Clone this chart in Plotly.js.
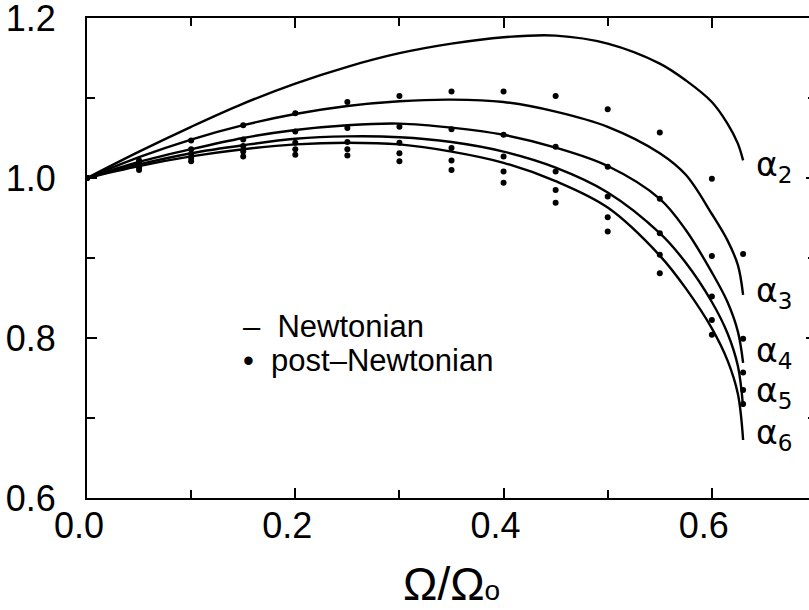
<!DOCTYPE html>
<html><head><meta charset="utf-8">
<script src="https://cdn.plot.ly/plotly-3.0.1.min.js"></script>
<style>html,body{margin:0;padding:0;overflow:hidden;background:#fff}</style>
</head><body><div id="chart" style="width:830px;height:610px"></div>
<script>
// Newtonian curves (solid lines)
const xNewton = [0, 0.05, 0.1, 0.15, 0.2, 0.25, 0.3, 0.35, 0.4, 0.45, 0.5, 0.55, 0.575, 0.6, 0.615, 0.625, 0.63];
const alpha2Newton = [1.0, 1.033, 1.064, 1.093, 1.118, 1.139, 1.156, 1.168, 1.176, 1.178, 1.168, 1.143, 1.122, 1.095, 1.068, 1.043, 1.022];
const alpha3Newton = [1.0, 1.026, 1.048, 1.066, 1.080, 1.090, 1.096, 1.098, 1.095, 1.083, 1.064, 1.031, 1.004, 0.955, 0.922, 0.891, 0.854];
const alpha4Newton = [1.0, 1.020, 1.036, 1.050, 1.060, 1.066, 1.068, 1.063, 1.054, 1.038, 1.015, 0.974, 0.935, 0.882, 0.845, 0.808, 0.769];
const alpha5Newton = [1.0, 1.017, 1.031, 1.041, 1.049, 1.052, 1.051, 1.045, 1.033, 1.013, 0.982, 0.931, 0.894, 0.845, 0.806, 0.765, 0.714];
const alpha6Newton = [1.0, 1.015, 1.027, 1.036, 1.042, 1.044, 1.042, 1.033, 1.019, 0.996, 0.963, 0.903, 0.862, 0.812, 0.772, 0.730, 0.6725];

// post-Newtonian points (dots)
const xPostNewton = [0, 0.05, 0.1, 0.15, 0.2, 0.25, 0.3, 0.35, 0.4, 0.45, 0.5, 0.55, 0.6, 0.63];
const alpha2Post = [1.0, 1.022, 1.047, 1.066, 1.081, 1.095, 1.1025, 1.108, 1.108, 1.1025, 1.086, 1.057, 0.999, 0.905];
const alpha3Post = [1.0, 1.019, 1.036, 1.048, 1.058, 1.0625, 1.064, 1.061, 1.054, 1.039, 1.014, 0.974, 0.9025, 0.799];
const alpha4Post = [1.0, 1.016, 1.030, 1.040, 1.044, 1.045, 1.044, 1.0375, 1.027, 1.008, 0.977, 0.931, 0.852, 0.757];
const alpha5Post = [1.0, 1.013, 1.025, 1.033, 1.036, 1.036, 1.031, 1.022, 1.008, 0.985, 0.951, 0.904, 0.8225, 0.735];
const alpha6Post = [1.0, 1.010, 1.021, 1.027, 1.029, 1.028, 1.021, 1.010, 0.994, 0.969, 0.933, 0.881, 0.804, 0.7175];

const curveNames = ['α<sub>2</sub>', 'α<sub>3</sub>', 'α<sub>4</sub>', 'α<sub>5</sub>', 'α<sub>6</sub>'];
const xTickVals = [0, 0.2, 0.4, 0.6];
const xTickText = ['0.0', '0.2', '0.4', '0.6'];
const yTickVals = [0.6, 0.8, 1.0, 1.2];
const yTickText = ['0.6', '0.8', '1.0', '1.2'];
const legendTexts = ['–  Newtonian', '•  post–Newtonian'];
const xTitle = 'Ω/Ω<span style="font-size:28px">o</span>';

const newtonSeries = [alpha2Newton, alpha3Newton, alpha4Newton, alpha5Newton, alpha6Newton];
const postSeries = [alpha2Post, alpha3Post, alpha4Post, alpha5Post, alpha6Post];

const FONT = 'Liberation Sans, Arial, sans-serif';
const traces = [];
newtonSeries.forEach((ys, i) => {
  traces.push({x: xNewton, y: ys, type: 'scatter', mode: 'lines', name: curveNames[i],
    line: {color: '#000', width: 2.4, shape: 'spline', smoothing: 1.0}, showlegend: false, hoverinfo: 'skip'});
});
postSeries.forEach((ys, i) => {
  traces.push({x: xPostNewton, y: ys, type: 'scatter', mode: 'markers', name: curveNames[i],
    marker: {color: '#000', size: 6}, showlegend: false, hoverinfo: 'skip'});
});

const labelShift = [-6, 2, 10, 14, 6];
const annotations = newtonSeries.map((ys, i) => ({
  x: xNewton[xNewton.length - 1], y: ys[ys.length - 1], xref: 'x', yref: 'y',
  text: curveNames[i], showarrow: false, xanchor: 'left', yanchor: 'middle',
  xshift: 11, yshift: labelShift[i], font: {family: 'DejaVu Sans, sans-serif', size: 33, color: '#000'}
}));
annotations.push({x: 0.148, y: 0.815, xref: 'x', yref: 'y', text: legendTexts[0], showarrow: false,
  xanchor: 'left', yanchor: 'middle', font: {family: FONT, size: 31, color: '#000'}});
annotations.push({x: 0.148, y: 0.772, xref: 'x', yref: 'y', text: legendTexts[1], showarrow: false,
  xanchor: 'left', yanchor: 'middle', font: {family: FONT, size: 31, color: '#000'}});
// x-axis title placed below the tick labels
annotations.push({x: 0.5, y: -0.18, xref: 'paper', yref: 'paper', text: xTitle, showarrow: false,
  xanchor: 'center', yanchor: 'middle', font: {family: FONT, size: 46, color: '#000'}});

const axisCommon = {
  showline: true, linecolor: '#000', linewidth: 2, mirror: 'ticks',
  ticks: 'inside', ticklen: 10, tickwidth: 2, tickcolor: '#000',
  showgrid: false, zeroline: false, fixedrange: true, ticklabeloverflow: 'allow',
  tickfont: {family: FONT, size: 36, color: '#000'}
};

const layout = {
  width: 830, height: 610,
  margin: {l: 87, r: 14, t: 18, b: 112},
  paper_bgcolor: '#fff', plot_bgcolor: '#fff',
  showlegend: false,
  xaxis: Object.assign({}, axisCommon, {
    range: [0, 0.7], tickmode: 'array', tickvals: xTickVals, ticktext: xTickText,
    ticklabelshift: -8, ticklabelstandoff: -5,
    minor: {tickmode: 'array', tickvals: [0.1, 0.3, 0.5], ticks: 'inside', ticklen: 8, tickwidth: 2, tickcolor: '#000'}
  }),
  yaxis: Object.assign({}, axisCommon, {
    range: [0.6, 1.2], tickmode: 'array', tickvals: yTickVals, ticktext: yTickText,
    ticklabelstandoff: 22,
    minor: {tickmode: 'array', tickvals: [0.7, 0.9, 1.1], ticks: 'inside', ticklen: 8, tickwidth: 2, tickcolor: '#000'}
  }),
  annotations: annotations
};

Plotly.newPlot('chart', traces, layout, {staticPlot: true, displayModeBar: false});
</script>
</body></html>
